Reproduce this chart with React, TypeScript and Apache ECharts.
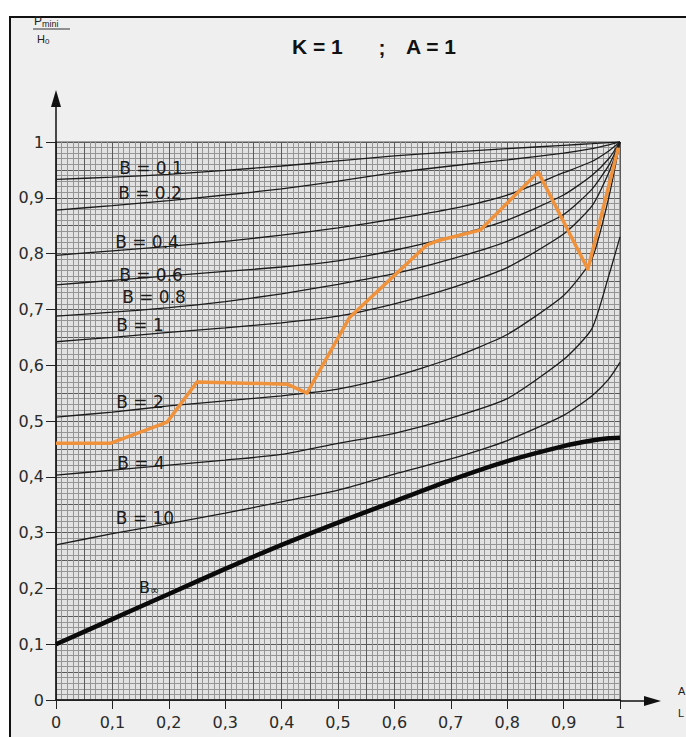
import React, { useEffect, useRef } from "react";
import * as echarts from "echarts";

// abscissa samples shared by the B curves
const xs = [0, 0.1, 0.2, 0.3, 0.4, 0.5, 0.6, 0.7, 0.8, 0.9, 0.95, 0.98, 1];

const curveNames = ["B = 0.1", "B = 0.2", "B = 0.4", "B = 0.6", "B = 0.8", "B = 1", "B = 2", "B = 4", "B = 10"];
const b01 = [0.933, 0.937, 0.942, 0.949, 0.957, 0.966, 0.975, 0.982, 0.988, 0.994, 0.997, 0.999, 1.0];
const b02 = [0.878, 0.886, 0.895, 0.905, 0.916, 0.93, 0.945, 0.957, 0.968, 0.98, 0.988, 0.995, 1.0];
const b04 = [0.797, 0.805, 0.813, 0.822, 0.833, 0.846, 0.862, 0.88, 0.905, 0.945, 0.965, 0.984, 1.0];
const b06 = [0.744, 0.752, 0.76, 0.768, 0.776, 0.787, 0.806, 0.83, 0.86, 0.905, 0.94, 0.97, 1.0];
const b08 = [0.688, 0.695, 0.703, 0.714, 0.728, 0.745, 0.764, 0.79, 0.822, 0.87, 0.915, 0.958, 1.0];
const b1 = [0.642, 0.65, 0.659, 0.667, 0.676, 0.688, 0.71, 0.738, 0.775, 0.835, 0.885, 0.945, 1.0];
const b2 = [0.507, 0.516, 0.527, 0.536, 0.545, 0.557, 0.58, 0.612, 0.655, 0.725, 0.79, 0.9, 1.0];
const b4 = [0.403, 0.412, 0.421, 0.43, 0.44, 0.46, 0.478, 0.505, 0.54, 0.61, 0.665, 0.76, 0.83];
const b10 = [0.278, 0.298, 0.316, 0.335, 0.355, 0.376, 0.405, 0.432, 0.465, 0.51, 0.545, 0.575, 0.605];
const bInf = [0.1, 0.145, 0.19, 0.235, 0.278, 0.318, 0.356, 0.394, 0.428, 0.455, 0.465, 0.469, 0.47];

// orange measured path
const orangeX = [0, 0.096, 0.197, 0.25, 0.41, 0.445, 0.52, 0.657, 0.68, 0.752, 0.855, 0.943, 0.997];
const orangeY = [0.46, 0.46, 0.498, 0.57, 0.566, 0.55, 0.685, 0.815, 0.824, 0.842, 0.946, 0.772, 0.99];

const fmt = (v: number) => {
  if (Math.abs(v) < 1e-9) return "0";
  if (Math.abs(v - 1) < 1e-9) return "1";
  return v.toFixed(1).replace(".", ",");
};

export default function App() {
  const ref = useRef<HTMLDivElement>(null);

  useEffect(() => {
    if (!ref.current) return;
    const chart = echarts.init(ref.current, undefined, { renderer: "svg" });

    const thinSets = [b01, b02, b04, b06, b08, b1, b2, b4, b10];
    const thinSeries = thinSets.map((vals, k) => ({
      name: curveNames[k],
      type: "line",
      data: xs.map((x, i) => [x, vals[i]]),
      smooth: 0.2,
      showSymbol: false,
      symbol: "none",
      lineStyle: { color: "#1c1c1c", width: 1.3 },
      z: 3,
    }));

    const labelPos: [number, number][] = [
      [151, 168],
      [150, 193],
      [147, 242],
      [151, 275],
      [154, 297],
      [140, 325],
      [140, 402],
      [141, 463],
      [145, 518],
    ];

    const labelFont = { fontSize: 17, fontFamily: "DejaVu Sans", fill: "#1a1a1a" };
    const al = (a: string) => ({ align: a, verticalAlign: "middle", textAlign: a, textVerticalAlign: "middle" });
    const titleFont = { fontSize: 21, fontWeight: "bold", fontFamily: "Liberation Sans", fill: "#111" };

    const graphics: any[] = [
      { type: "text", x: 292, y: 46, z: 100, style: { text: "K = 1", ...titleFont, ...al("left") } },
      { type: "text", x: 382, y: 47, z: 100, style: { text: ";", ...titleFont, ...al("center") } },
      { type: "text", x: 406, y: 46, z: 100, style: { text: "A = 1", ...titleFont, ...al("left") } },
      {
        type: "text",
        x: 34,
        y: 21,
        z: 100,
        style: {
          text: "{p|P}{s|mini}",
          rich: {
            p: { fontSize: 12, fontFamily: "Liberation Sans", fill: "#222" },
            s: { fontSize: 9, fontFamily: "Liberation Sans", fill: "#222", padding: [6, 0, 0, 0] },
          },
          ...al("left"),
        },
      },
      { type: "line", z: 100, shape: { x1: 33, y1: 29, x2: 70, y2: 29 }, style: { stroke: "#333", lineWidth: 1 } },
      {
        type: "text",
        x: 37,
        y: 39,
        z: 100,
        style: {
          text: "{p|H}{s|0}",
          rich: {
            p: { fontSize: 11, fontFamily: "Liberation Sans", fill: "#222" },
            s: { fontSize: 8, fontFamily: "Liberation Sans", fill: "#222", padding: [5, 0, 0, 0] },
          },
          ...al("left"),
        },
      },
      { type: "line", z: 100, shape: { x1: 56, y1: 142, x2: 56, y2: 100 }, style: { stroke: "#111", lineWidth: 1.5 } },
      { type: "polygon", z: 100, shape: { points: [[51, 107], [56, 90], [61, 107]] }, style: { fill: "#111" } },
      { type: "line", z: 100, shape: { x1: 620, y1: 701, x2: 648, y2: 701 }, style: { stroke: "#111", lineWidth: 1.5 } },
      { type: "polygon", z: 100, shape: { points: [[644, 696], [661, 701], [644, 706]] }, style: { fill: "#111" } },
      { type: "text", x: 678, y: 691, z: 100, style: { text: "A", fontSize: 11, fontFamily: "Liberation Sans", fill: "#222", ...al("left") } },
      { type: "text", x: 678, y: 713, z: 100, style: { text: "L", fontSize: 11, fontFamily: "Liberation Sans", fill: "#222", ...al("left") } },
      {
        type: "text",
        x: 139,
        y: 587,
        z: 100,
        style: {
          text: "{a|B}{b|∞}",
          rich: {
            a: { fontSize: 16, fontFamily: "DejaVu Sans", fill: "#1a1a1a" },
            b: { fontSize: 11, fontFamily: "DejaVu Sans", fill: "#1a1a1a", padding: [7, 0, 0, 0] },
          },
          ...al("left"),
        },
      },
    ];

    curveNames.forEach((name, k) => {
      graphics.push({
        type: "text",
        x: labelPos[k][0],
        y: labelPos[k][1],
        z: 100,
        style: { text: name, ...labelFont, ...al("center") },
      });
    });

    const option: any = {
      animation: false,
      backgroundColor: "transparent",
      grid: {
        left: 56,
        top: 142,
        width: 564,
        height: 558,
        show: true,
        backgroundColor: "#e2e2e2",
        borderColor: "#555",
        borderWidth: 1,
        containLabel: false,
      },
      xAxis: [
        {
          type: "value",
          min: 0,
          max: 1,
          interval: 0.1,
          axisLine: { show: true, onZero: false, lineStyle: { color: "#111", width: 1.5 } },
          axisTick: { show: true, length: 9, lineStyle: { color: "#222", width: 1 } },
          axisLabel: { formatter: fmt, color: "#2a2a2a", fontSize: 16, fontFamily: "DejaVu Sans", margin: 14 },
          splitLine: { show: true, lineStyle: { color: "#333", width: 1 } },
          minorTick: { show: false, splitNumber: 10 },
          minorSplitLine: { show: true, lineStyle: { color: "#959595", width: 1 } },
        },
        {
          type: "value",
          min: 0,
          max: 1,
          interval: 0.05,
          position: "bottom",
          axisLine: { show: false },
          axisTick: { show: false },
          axisLabel: { show: false },
          splitLine: { show: true, lineStyle: { color: "#5a5a5a", width: 1 } },
        },
      ],
      yAxis: [
        {
          type: "value",
          min: 0,
          max: 1,
          interval: 0.1,
          axisLine: { show: true, onZero: false, lineStyle: { color: "#111", width: 1.5 } },
          axisTick: { show: true, length: 10, lineStyle: { color: "#222", width: 1 } },
          axisLabel: { formatter: fmt, color: "#2a2a2a", fontSize: 16, fontFamily: "DejaVu Sans", margin: 12, padding: [0, 0, 10, 0] },
          splitLine: { show: true, lineStyle: { color: "#333", width: 1 } },
          minorTick: { show: false, splitNumber: 10 },
          minorSplitLine: { show: true, lineStyle: { color: "#959595", width: 1 } },
        },
        {
          type: "value",
          min: 0,
          max: 1,
          interval: 0.05,
          position: "left",
          axisLine: { show: false },
          axisTick: { show: false },
          axisLabel: { show: false },
          splitLine: { show: true, lineStyle: { color: "#5a5a5a", width: 1 } },
        },
      ],
      series: [
        ...thinSeries,
        {
          name: "B∞",
          type: "line",
          data: xs.map((x, i) => [x, bInf[i]]),
          smooth: 0.2,
          showSymbol: false,
          symbol: "none",
          lineStyle: { color: "#0a0a0a", width: 4.5 },
          z: 4,
        },
        {
          name: "mesure",
          type: "line",
          data: orangeX.map((x, i) => [x, orangeY[i]]),
          showSymbol: false,
          symbol: "none",
          lineStyle: { color: "#f0923c", width: 3.5, join: "round" },
          z: 5,
        },
      ],
      graphic: graphics,
    };

    chart.setOption(option);
    return () => chart.dispose();
  }, []);

  return (
    <div style={{ position: "fixed", left: 0, top: 0, width: 686, height: 737, background: "#ffffff", overflow: "hidden" }}>
      <div
        style={{
          position: "absolute",
          left: 9,
          top: 16,
          width: 677,
          height: 721,
          boxSizing: "border-box",
          borderLeft: "2px solid #111",
          borderTop: "2px solid #111",
          background: "#efefef",
        }}
      />
      <div ref={ref} style={{ position: "absolute", left: 0, top: 0, width: 686, height: 737 }} />
    </div>
  );
}
